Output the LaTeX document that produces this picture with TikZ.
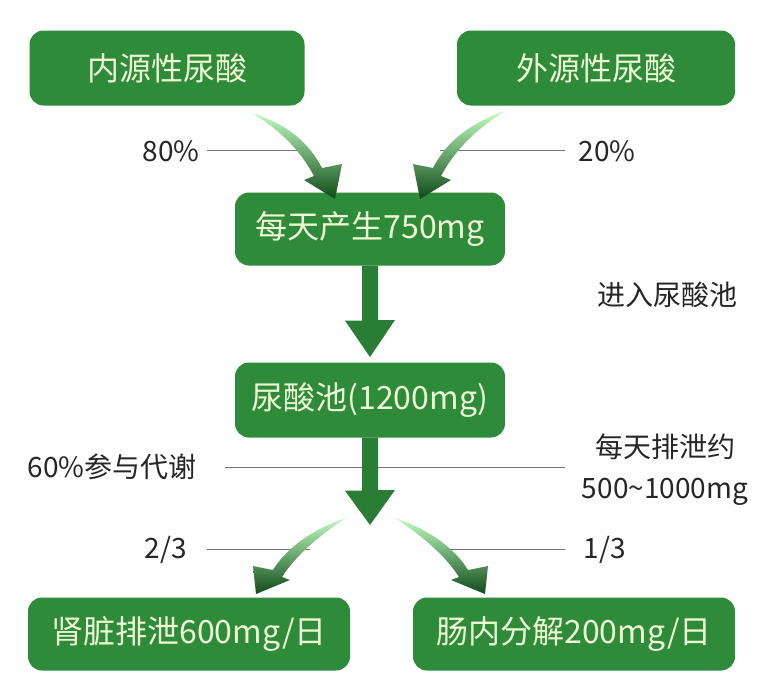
\documentclass[tikz,border=0pt]{standalone}
\usepackage{fontspec}
\setmainfont{Noto Sans CJK SC}
\definecolor{gbox}{HTML}{2E8B3A}
\definecolor{gtext}{HTML}{EEF8D2}
\definecolor{gdark}{HTML}{0F4A18}
\begin{document}
\begin{tikzpicture}[x=1pt,y=-1pt,
  box/.style={draw=none,fill=gbox,rounded corners=14pt,text=gtext,font=\fontsize{32}{34}\selectfont,inner sep=0pt},
  lbl/.style={font=\fontsize{28}{30}\selectfont,text=black!85},
  rule/.style={draw=black!55,line width=0.8pt},
  curv/.style={top color=green!25!white, bottom color=gdark, draw=none}]
\useasboundingbox (0,0) rectangle (766,688);
\fill[white] (0,0) rectangle (766,688);
\node[box,minimum width=275,minimum height=75] (a) at (167,68) {内源性尿酸};
\node[box,minimum width=278,minimum height=75] (b) at (596,68) {外源性尿酸};
\node[box,minimum width=270,minimum height=73] (c) at (370,229) {每天产生750mg};
\node[box,minimum width=270,minimum height=75] (d) at (370,400) {尿酸池(1200mg)};
\node[box,minimum width=322,minimum height=73] (e) at (189,634) {肾脏排泄600mg/日};
\node[box,minimum width=322,minimum height=73] (f) at (574,634) {肠内分解200mg/日};
% labels and rules
\node[lbl] (l80) at (171,151) {80\%};
\node[lbl] (l20) at (607,151) {20\%};
\coordinate (r1a) at (207,150); \coordinate (r1b) at (310,150);
\coordinate (r2a) at (440,150); \coordinate (r2b) at (565,150);
\draw[rule] (r1a) -- (r1b); \draw[rule] (r2a) -- (r2b);
\node[lbl] (jr) at (667,295) {进入尿酸池};
\node[lbl] (l60) at (112,467) {60\%参与代谢};
\coordinate (r3a) at (225,467); \coordinate (r3b) at (565,467);
\draw[rule] (r3a) -- (r3b);
\node[lbl] (mt) at (665,447) {每天排泄约};
\node[lbl] (mg) at (665,492) {500\textasciitilde1000mg};
\node[lbl] (l23) at (166,550) {2/3};
\node[lbl] (l13) at (605,550) {1/3};
\coordinate (r4a) at (207,549); \coordinate (r4b) at (310,549);
\coordinate (r5a) at (440,549); \coordinate (r5b) at (565,549);
\draw[rule] (r4a) -- (r4b); \draw[rule] (r5a) -- (r5b);
% straight arrows
\fill[gbox!90!black] ([xshift=-8]c.south) -- ++(0,55) -- ++(-17,0) -- (370,357) -- (395,320) -- ++(-17,0) -- ([xshift=8]c.south) -- cycle;
\fill[gbox!90!black] ([xshift=-8]d.south) -- ++(0,53) -- ++(-17,0) -- (370,525) -- (395,490) -- ++(-17,0) -- ([xshift=8]d.south) -- cycle;
% curved arrows
\shade[curv] (252,113) .. controls (290,125) and (310,145) .. (322,168) -- (342,164) -- (335,199) -- (304,180) -- (314,176) .. controls (300,150) and (280,130) .. (252,113) -- cycle;
\shade[curv] (505,111) .. controls (465,125) and (445,145) .. (433,168) -- (413,164) -- (420,199) -- (451,180) -- (441,176) .. controls (455,150) and (475,130) .. (505,111) -- cycle;
\shade[curv] (346,518) .. controls (310,530) and (285,550) .. (273,570) -- (253,566) -- (256,594) -- (290,580) -- (282,577) .. controls (296,555) and (320,535) .. (346,518) -- cycle;
\shade[curv] (395,518) .. controls (431,530) and (456,550) .. (468,570) -- (488,566) -- (485,594) -- (451,580) -- (459,577) .. controls (445,555) and (421,535) .. (395,518) -- cycle;
\end{tikzpicture}
\end{document}
